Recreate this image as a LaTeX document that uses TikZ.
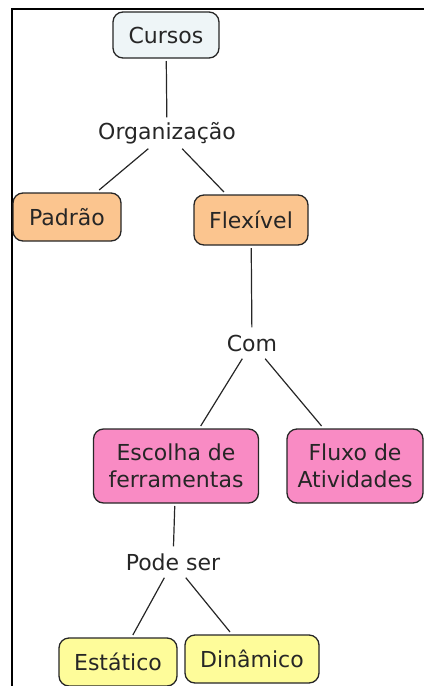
\documentclass[tikz,border=0pt]{standalone}
\usepackage{fontspec}
\setmainfont{DejaVu Sans}
\definecolor{cinza}{HTML}{EEF5F7}
\definecolor{laranja}{HTML}{FBC58F}
\definecolor{rosa}{HTML}{F98BC4}
\definecolor{amarelo}{HTML}{FEFC9A}
\begin{document}
\begin{tikzpicture}[x=1pt,y=-1pt,
	font=\fontsize{22}{26.5}\selectfont,text=black!85,
	caixa/.style={draw=black!85,line width=1.3pt,rounded corners=10pt,inner sep=0pt,outer sep=3pt,align=center},
	rotulo/.style={inner sep=0pt,minimum height=31pt,minimum width=60pt}]
	\useasboundingbox (0,0) rectangle (424,686);
	\draw[line width=2.6pt] (12,686)--(12,9)--(424,9);
	\node[caixa,fill=cinza,minimum width=106pt,minimum height=46pt] (cursos) at (166,35) {Cursos};
	\node[rotulo] (org) at (167,133) {Organização};
	\node[caixa,fill=laranja,minimum width=108pt,minimum height=48pt] (padrao) at (67,217) {Padrão};
	\node[caixa,fill=laranja,minimum width=114pt,minimum height=50pt] (flex) at (251,220) {Flexível};
	\node[rotulo] (com) at (252,343) {Com};
	\node[caixa,fill=rosa,minimum width=165pt,minimum height=74pt] (escolha) at (176,466) {Escolha de\\ferramentas};
	\node[caixa,fill=rosa,minimum width=136pt,minimum height=74pt] (fluxo) at (355,466) {Fluxo de\\Atividades};
	\node[rotulo] (pode) at (173,562) {Pode ser};
	\node[caixa,fill=amarelo,minimum width=118pt,minimum height=48pt] (estatico) at (118,662) {Estático};
	\node[caixa,fill=amarelo,minimum width=134pt,minimum height=48pt] (dinamico) at (252,659) {Dinâmico};
	\foreach \a/\b in {cursos/org,org/padrao,org/flex,flex/com,com/escolha,com/fluxo,escolha/pode,pode/estatico,pode/dinamico}
	\draw[line width=1.2pt,black!85] (\a)--(\b);
\end{tikzpicture}
\end{document}
